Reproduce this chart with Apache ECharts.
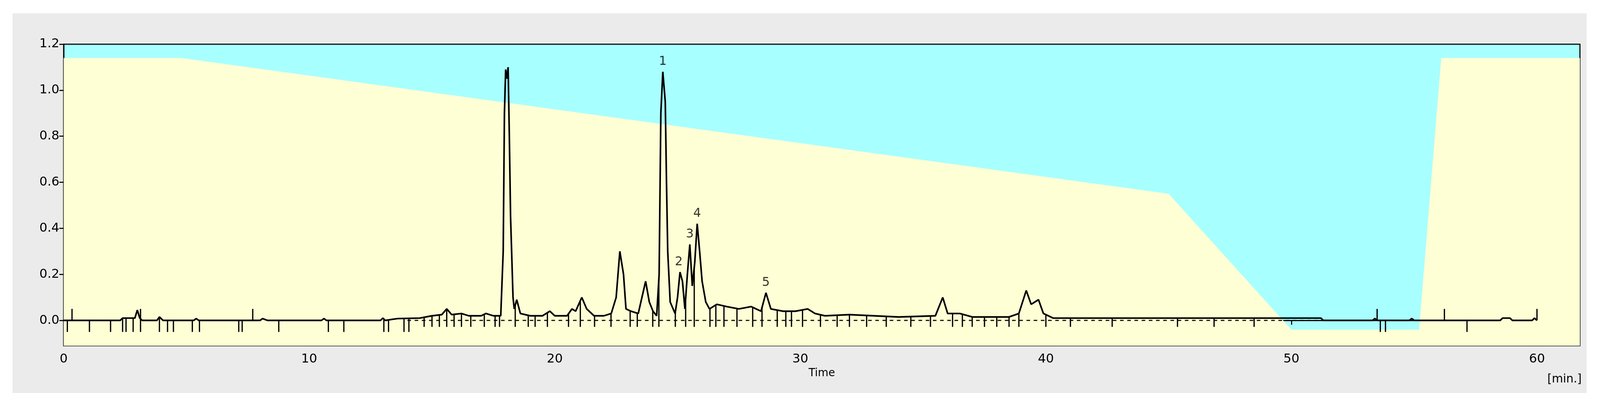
<!DOCTYPE html>
<html>
<head>
<meta charset="utf-8">
<script src="https://cdn.jsdelivr.net/npm/echarts@6/dist/echarts.min.js"></script>
<style>
  html, body { margin:0; background:#ffffff; overflow:hidden; width:100%; height:100%; }
  #main { position:absolute; left:0.77%; top:3.3%; width:98.4%; height:94.5%; }
</style>
</head>
<body>
<div id="main"></div>
<script>
// gradient outline (yellow below, cyan above)
var gradient = [[0,1.14],[4.8,1.14],[45,0.55],[50,-0.04],[55.2,-0.04],[56.1,1.14],[61.75,1.14]];

// chromatogram trace [time, signal]
var trace = [[0,0],[2.3,0],[2.4,0.01],[2.9,0.01],[3.0,0.045],[3.1,0.01],[3.2,0],[3.8,0],[3.9,0.015],[4.05,0],[5.3,0],[5.4,0.008],[5.5,0],
  [8.0,0],[8.1,0.008],[8.3,0],[10.5,0],[10.6,0.008],[10.7,0],[12.9,0],[13.0,0.01],[13.1,0],[13.4,0.005],[13.6,0.008],[14.5,0.01],
  [15.0,0.02],[15.4,0.025],[15.6,0.05],[15.8,0.025],[16.2,0.03],[16.5,0.02],[17.0,0.02],[17.2,0.03],[17.5,0.02],[17.8,0.02],
  [17.9,0.3],[17.95,0.9],[18.0,1.09],[18.05,1.05],[18.1,1.1],[18.15,0.8],[18.2,0.45],[18.3,0.1],[18.35,0.05],[18.45,0.09],[18.6,0.03],
  [19.0,0.02],[19.5,0.02],[19.8,0.04],[20.0,0.02],[20.5,0.02],[20.7,0.05],[20.85,0.04],[21.1,0.1],[21.3,0.05],[21.6,0.02],[22.0,0.02],
  [22.3,0.03],[22.5,0.1],[22.65,0.3],[22.8,0.2],[22.9,0.05],[23.1,0.04],[23.4,0.03],[23.55,0.1],[23.7,0.17],[23.85,0.08],[24.0,0.04],
  [24.15,0.02],[24.25,0.2],[24.32,0.9],[24.4,1.08],[24.5,0.95],[24.55,0.6],[24.6,0.3],[24.7,0.08],[24.9,0.03],[25.0,0.1],[25.1,0.21],
  [25.2,0.17],[25.3,0.05],[25.4,0.2],[25.5,0.33],[25.6,0.15],[25.7,0.25],[25.8,0.42],[25.9,0.3],[26.0,0.17],[26.15,0.08],[26.3,0.05],
  [26.6,0.07],[27.0,0.06],[27.5,0.05],[28.0,0.06],[28.4,0.04],[28.6,0.12],[28.8,0.05],[29.3,0.04],[29.8,0.04],[30.3,0.05],[30.6,0.03],
  [31.0,0.02],[32.0,0.025],[33.0,0.02],[34.0,0.015],[35.5,0.02],[35.8,0.1],[36.0,0.03],[36.5,0.03],[37.0,0.015],[38.5,0.015],
  [38.9,0.03],[39.2,0.13],[39.4,0.07],[39.7,0.09],[39.9,0.03],[40.3,0.01],[45,0.01],[51.2,0.01],[51.3,0],[53.3,0],[53.4,0.008],
  [53.5,0],[54.8,0],[54.9,0.008],[55,0],[58.5,0],[58.6,0.01],[58.9,0.01],[59,0],[59.8,0],[59.9,0.01],[60,0]];

// integration ticks
var downTicks = [0.15,1.05,1.91,2.4,2.54,2.83,3.13,3.9,4.23,4.47,5.24,5.53,7.13,7.27,8.76,10.78,11.41,13.04,13.23,13.86,14.06,14.68,
  15.0,15.3,15.6,15.9,16.2,16.58,17.13,17.57,17.75,18.39,18.92,19.2,19.7,20.56,21.04,21.62,22.29,23.07,23.36,23.99,24.24,24.91,25.33,25.68,
  26.32,26.56,26.89,27.42,28.06,28.44,29.06,29.41,29.64,30.09,30.82,31.5,32.0,32.7,33.5,34.5,35.3,36.2,36.6,37.0,37.5,38.0,38.5,38.9,
  40.0,41.0,42.7,45.36,46.85,48.48,53.62,53.83,57.15];
var upTicks = [0.34,3.13,7.7,53.49,56.23,60.0];

var peakLabels = [['1',24.4,1.08],['2',25.05,0.21],['3',25.5,0.33],['4',25.8,0.42],['5',28.6,0.12]];

var el = document.getElementById('main');
var chart = echarts.init(el);
var W = el.clientWidth, H = el.clientHeight;
var s = W / 4374;
var font = 'DejaVu Sans';

function traceAt(t){
  for (var i=1;i<trace.length;i++){
    if (trace[i][0]>=t){
      var a=trace[i-1], b=trace[i];
      return a[1]+(b[1]-a[1])*(t-a[0])/(b[0]-a[0]);
    }
  }
  return 0;
}

var tickData = downTicks.map(function(t){
  var low = (t>14.5 && t<51) ? -0.028 : -0.05;
  return [t, traceAt(t), low];
}).concat(upTicks.map(function(t){ return [t, 0.05, 0]; }));

chart.setOption({
  backgroundColor:'#ebebeb',
  animation:false,
  grid:{left:W*0.0325, right:W*0.0043, top:H*0.0813, bottom:H*0.1245, outerBoundsMode:'none',
    show:true, backgroundColor:'#a8ffff', borderColor:'#000', borderWidth:3*s},
  xAxis:{type:'value', min:0, max:61.75, name:'Time', nameLocation:'middle', nameGap:62*s,
    nameTextStyle:{fontFamily:font, fontSize:30*s, color:'#000'},
    axisLine:{lineStyle:{color:'#000', width:3*s}}, splitLine:{show:false},
    axisTick:{customValues:[0,10,20,30,40,50,60], length:12*s, lineStyle:{width:3*s, color:'#000'}},
    axisLabel:{customValues:[0,10,20,30,40,50,60], fontFamily:font, fontSize:35*s, color:'#000', margin:20*s}},
  yAxis:{type:'value', min:-0.11, max:1.2,
    axisLine:{show:true, lineStyle:{color:'#000', width:3*s}}, splitLine:{show:false},
    axisTick:{show:true, customValues:[0,0.2,0.4,0.6,0.8,1.0,1.2], length:12*s, lineStyle:{width:3*s, color:'#000'}},
    axisLabel:{customValues:[0,0.2,0.4,0.6,0.8,1.0,1.2], fontFamily:font, fontSize:35*s, color:'#000', margin:12*s,
      formatter:function(v){ return v.toFixed(1); }}},
  graphic:[{type:'text', right:14*s, bottom:22*s, style:{text:'[min.]', font:(32*s)+'px "DejaVu Sans"', fill:'#000'}}],
  series:[
    {type:'line', data:gradient, symbol:'none', lineStyle:{width:0}, areaStyle:{color:'#ffffd5', origin:'start', opacity:1}, z:1},
    {type:'line', data:[[14.0,0],[51.2,0]], symbol:'none', lineStyle:{color:'#000', width:3*s, type:[10*s,10*s]}, z:2},
    {type:'custom', data:tickData, z:3,
      renderItem:function(params, api){
        var p1 = api.coord([api.value(0), api.value(1)]);
        var p2 = api.coord([api.value(0), api.value(2)]);
        return {type:'line', shape:{x1:p1[0], y1:p1[1], x2:p2[0], y2:p2[1]}, style:{stroke:'#000', lineWidth:3.5*s}};
      }},
    {type:'line', data:trace, symbol:'none', lineStyle:{color:'#000', width:4.5*s}, z:4},
    {type:'scatter', data:peakLabels.map(function(p){ return {value:[p[1],p[2]], name:p[0]}; }),
      symbolSize:2, itemStyle:{color:'rgba(0,0,0,0)'}, z:5,
      label:{show:true, position:'top', distance:10*s, formatter:'{b}', fontFamily:font, fontSize:34*s, color:'#000'}}
  ]
});
</script>
</body>
</html>
